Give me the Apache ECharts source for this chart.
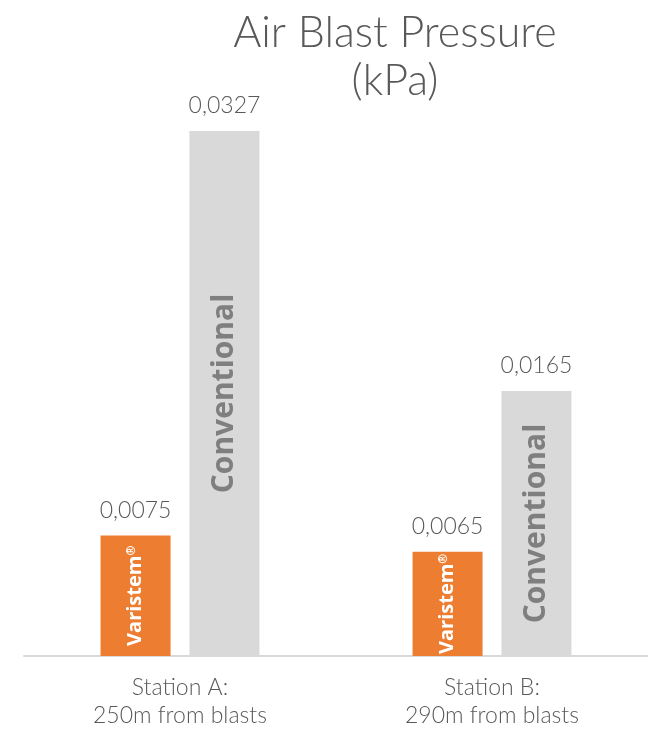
<!DOCTYPE html>
<html>
<head>
<meta charset="utf-8">
<script src="https://cdn.jsdelivr.net/npm/echarts@6/dist/echarts.min.js"></script>
<style>html,body{margin:0;padding:0;background:#fff}#c{width:648px;height:730px}</style>
</head>
<body>
<div id="c"></div>
<script>
const categories = ['Station A:\n250m from blasts', 'Station B:\n290m from blasts'];
const varistemValues = [0.0075, 0.0065];
const conventionalValues = [0.0327, 0.0165];
const titleText = 'Air Blast Pressure\n(kPa)';

const chart = echarts.init(document.getElementById('c'), null, {renderer: 'canvas'});
const fmt = v => String(v).replace('.', ',');
const valueMarks = vals => ({
  symbol: 'circle', symbolSize: 1,
  itemStyle: {color: 'rgba(0,0,0,0)'},
  label: {show: true, position: 'top', distance: 13, formatter: p => fmt(p.value),
    fontFamily: 'Lato', fontWeight: 300, fontSize: 23, color: '#595959'},
  data: vals.map((v, i) => ({coord: [i, v], value: v}))
});
chart.setOption({
  animation: false,
  title: {
    text: titleText, left: 390, top: 4, textAlign: 'center',
    textStyle: {fontFamily: 'Lato', fontWeight: 300, fontSize: 43, lineHeight: 48, color: '#595959', align: 'center'}
  },
  grid: {left: 24, right: 0, top: 94, bottom: 73},
  xAxis: {
    type: 'category', data: categories,
    axisLine: {lineStyle: {color: '#D9D9D9', width: 2}},
    axisTick: {show: false},
    axisLabel: {margin: 18, fontFamily: 'Lato', fontWeight: 300, fontSize: 23, lineHeight: 28, color: '#595959'}
  },
  yAxis: {type: 'value', min: 0, max: 0.035, show: false, splitLine: {show: false}},
  series: [
    {
      name: 'Varistem', type: 'bar', data: varistemValues, barWidth: 70, barGap: '27%',
      itemStyle: {color: '#ED7D31'},
      label: {show: true, position: 'inside', rotate: 90,
        formatter: '{a|Varistem}{b|®}',
        rich: {a: {fontFamily: 'Open Sans', fontWeight: 'bold', fontSize: 20, color: '#fff'},
               b: {fontFamily: 'Open Sans', fontWeight: 'bold', fontSize: 12, color: '#fff', verticalAlign: 'top', padding: [0,0,8,0]}}},
      markPoint: valueMarks(varistemValues)
    },
    {
      name: 'Conventional', type: 'bar', data: conventionalValues, barWidth: 70,
      itemStyle: {color: '#D9D9D9'},
      label: {show: true, position: 'inside', rotate: 90, formatter: 'Conventional',
        fontFamily: 'Open Sans', fontWeight: 'bold', fontSize: 30, color: '#7F7F7F'},
      markPoint: valueMarks(conventionalValues)
    }
  ]
});
</script>
</body>
</html>
